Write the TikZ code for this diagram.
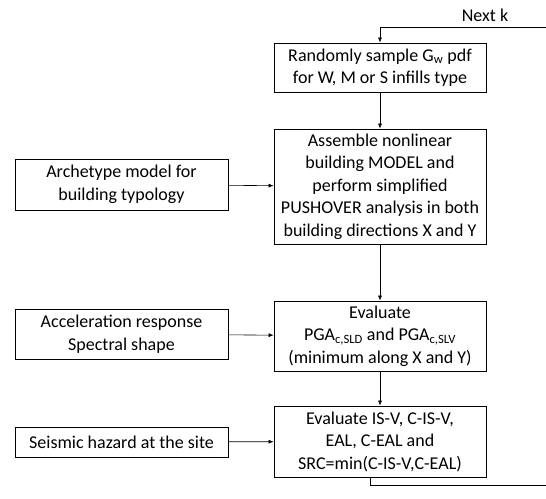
\documentclass[tikz,border=0pt]{standalone}
\usepackage{fontspec}
\setmainfont{Carlito}
\usetikzlibrary{arrows.meta}
\begin{document}
\begin{tikzpicture}
[x=1pt,y=-1pt,
  boxdecorate/.style={shape=rectangle,draw,line width=0.8pt,align=center,
    inner sep=0pt,font=\fontsize{18}{22.5}\selectfont},%
  mainbox/.style={boxdecorate,minimum width=212pt},%
  inputbox/.style={boxdecorate,minimum width=213pt},%
  linedecorate/.style={-{Latex[length=5pt,width=4pt]},line width=0.6pt}]
\useasboundingbox (0,0) rectangle (546,498);
%% main chain
\node (sample) at (380,67.5) [mainbox,minimum height=49pt]
  {Randomly sample G\textsubscript{w} pdf\\for W, M or S infills type};
\node (model) at (380,186.5) [mainbox,minimum height=115pt]
  {Assemble nonlinear\\building MODEL and\\perform simplified\\PUSHOVER analysis in both\\building directions X and Y};
\node (pga) at (380,336) [mainbox,minimum height=70pt]
  {Evaluate\\PGA\textsubscript{c,SLD} and PGA\textsubscript{c,SLV}\\(minimum along X and Y)};
\node (src) at (380,441.5) [mainbox,minimum height=71pt]
  {Evaluate IS-V, C-IS-V,\\EAL, C-EAL and\\SRC=min(C-IS-V,C-EAL)};
%% inputs
\node (archetype) at (121.5,184.5) [inputbox,minimum height=51pt]
  {Archetype model for\\building typology};
\node (spectrum) at (121.5,334) [inputbox,minimum height=50pt]
  {Acceleration response\\Spectral shape};
\node (hazard) at (121.5,442) [inputbox,minimum height=30pt]
  {Seismic hazard at the site};
%% loop over k
\coordinate (loopin) at (546,27);
\coordinate (loopout) at (546,485);
\node (nextk) at (485,15) [font=\fontsize{18}{22.5}\selectfont] {Next k};
%% edges or lines
\path
\foreach \startnode/\endnode in {sample/model, model/pga, pga/src,
  archetype/model, spectrum/pga, hazard/src} {
  (\startnode) edge[linedecorate] (\endnode)
};
\draw[linedecorate] (loopin) -| (sample.north);
\draw[line width=0.6pt] ([xshift=-10pt]src.south) |- (loopout);
\end{tikzpicture}
\end{document}
